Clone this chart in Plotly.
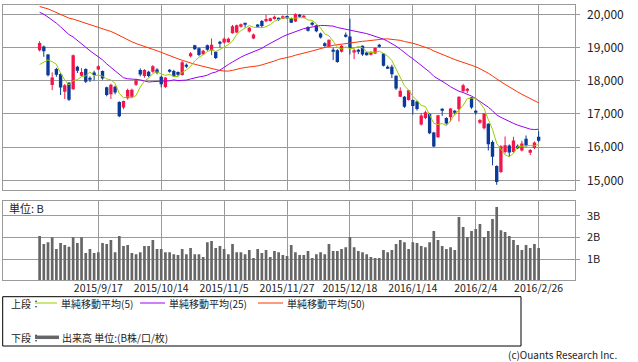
import plotly.graph_objects as go

# ---------------- data ----------------
dates = [
    "2015/8/28", "2015/8/31", "2015/9/1", "2015/9/2", "2015/9/3", "2015/9/4", "2015/9/7", "2015/9/8",
    "2015/9/9", "2015/9/10", "2015/9/11", "2015/9/14", "2015/9/15", "2015/9/16", "2015/9/17", "2015/9/18",
    "2015/9/24", "2015/9/25", "2015/9/28", "2015/9/29", "2015/9/30",
    "2015/10/1", "2015/10/2", "2015/10/5", "2015/10/6", "2015/10/7", "2015/10/8", "2015/10/9", "2015/10/13",
    "2015/10/14", "2015/10/15", "2015/10/16", "2015/10/19", "2015/10/20", "2015/10/21", "2015/10/22",
    "2015/10/23", "2015/10/26", "2015/10/27", "2015/10/28", "2015/10/29", "2015/10/30",
    "2015/11/2", "2015/11/4", "2015/11/5", "2015/11/6", "2015/11/9", "2015/11/10", "2015/11/11", "2015/11/12",
    "2015/11/13", "2015/11/16", "2015/11/17", "2015/11/18", "2015/11/19", "2015/11/20", "2015/11/24",
    "2015/11/25", "2015/11/26", "2015/11/27", "2015/11/30",
    "2015/12/1", "2015/12/2", "2015/12/3", "2015/12/4", "2015/12/7", "2015/12/8", "2015/12/9", "2015/12/10",
    "2015/12/11", "2015/12/14", "2015/12/15", "2015/12/16", "2015/12/17", "2015/12/18", "2015/12/21",
    "2015/12/22", "2015/12/24", "2015/12/25", "2015/12/28", "2015/12/29", "2015/12/30",
    "2016/1/4", "2016/1/5", "2016/1/6", "2016/1/7", "2016/1/8", "2016/1/12", "2016/1/13", "2016/1/14",
    "2016/1/15", "2016/1/18", "2016/1/19", "2016/1/20", "2016/1/21", "2016/1/22", "2016/1/25", "2016/1/26",
    "2016/1/27", "2016/1/28", "2016/1/29",
    "2016/2/1", "2016/2/2", "2016/2/3", "2016/2/4", "2016/2/5", "2016/2/8", "2016/2/9", "2016/2/10",
    "2016/2/12", "2016/2/15", "2016/2/16", "2016/2/17", "2016/2/18", "2016/2/19", "2016/2/22", "2016/2/23",
    "2016/2/24", "2016/2/25", "2016/2/26",
]

opens = [
    18920, 19030, 18790, 17870, 18350, 18200, 17670, 17940, 17740, 18420,
    18150, 18350, 18090, 18250, 18340, 18290, 17800, 17590, 17820, 17360,
    17190, 17470, 17520, 17880, 18320, 18140, 18270, 18270, 18340, 18120,
    17810, 18320, 18290, 18260, 18170, 18470, 18740, 19070, 18980, 18800,
    19070, 18920, 18870, 19140, 19150, 19160, 19430, 19450, 19640, 19710,
    19480, 19270, 19690, 19800, 19790, 19800, 19860, 19880, 19890, 19950,
    19880, 19780, 19990, 19900, 19620, 19720, 19670, 19420, 19130, 19030,
    18900, 18920, 18870, 19370, 19330, 18850, 18930, 19050, 18850, 18780,
    18820, 19060, 18820, 18420, 18420, 18150, 17520, 17520, 17420, 17420,
    17370, 16680, 16880, 17000, 16440, 16300, 17140, 16880, 16900, 17080,
    17140, 17680, 17720, 17500, 17080, 16760, 16570, 16700, 16150, 15430,
    15250, 15850, 16050, 15850, 16040, 15900, 16250, 15860, 15970, 16310,
]
highs = [
    19192, 19060, 18800, 18250, 18390, 18230, 17900, 17960, 18790, 18450,
    18380, 18370, 18130, 18300, 18470, 18310, 17820, 17910, 17850, 17380,
    17400, 17760, 17760, 18060, 18370, 18350, 18300, 18470, 18380, 18150,
    18110, 18350, 18330, 18280, 18600, 18520, 18860, 19080, 19000, 18930,
    19090, 19270, 18880, 19200, 19300, 19300, 19680, 19690, 19720, 19730,
    19620, 19420, 19700, 19830, 19980, 19900, 19960, 19900, 19970, 19960,
    19900, 20030, 20010, 19980, 19640, 19780, 19690, 19450, 19160, 19240,
    18990, 18950, 19070, 19450, 19870, 18960, 18960, 19060, 18870, 18880,
    19000, 19110, 18830, 18460, 18480, 18160, 17800, 17540, 17720, 17440,
    17400, 17030, 17100, 17030, 16460, 16970, 17170, 16900, 17170, 17120,
    17530, 17905, 17780, 17510, 17120, 16850, 17030, 16720, 16200, 15450,
    16060, 16320, 16080, 16310, 16080, 16190, 16350, 15940, 16170, 16480,
]
lows = [
    18880, 18720, 18130, 17714, 18120, 17570, 17450, 17390, 17720, 18230,
    18120, 17930, 17960, 18010, 18320, 18030, 17530, 17450, 17590, 16901,
    17140, 17430, 17490, 17840, 18130, 18090, 18100, 18240, 18190, 17800,
    17780, 18240, 18110, 18130, 18150, 18380, 18700, 18930, 18740, 18780,
    18900, 18770, 18650, 19000, 19120, 19140, 19420, 19430, 19600, 19600,
    19450, 19250, 19590, 19590, 19760, 19780, 19840, 19800, 19870, 19860,
    19740, 19770, 19900, 19880, 19480, 19650, 19460, 19270, 19020, 19000,
    18620, 18540, 18850, 19300, 18790, 18650, 18800, 18750, 18760, 18760,
    18800, 19000, 18430, 18360, 18080, 17720, 17510, 17180, 17400, 16980,
    17100, 16650, 16840, 16390, 16000, 16280, 16940, 16680, 16770, 16960,
    16770, 17660, 17630, 17150, 16980, 16700, 16530, 15900, 15450, 14865,
    15220, 15800, 15700, 15830, 15940, 15870, 16010, 15760, 15940, 16150,
]
closes = [
    19136, 18890, 18165, 18095, 18182, 17792, 17860, 17427, 18770, 18299,
    18264, 17965, 18026, 18171, 18432, 18070, 17571, 17880, 17645, 16930,
    17388, 17722, 17725, 18005, 18186, 18322, 18141, 18438, 18234, 17891,
    18097, 18291, 18131, 18207, 18554, 18435, 18825, 18947, 18777, 18903,
    18935, 19083, 18684, 19116, 19265, 19265, 19642, 19671, 19697, 19697,
    19596, 19394, 19649, 19649, 19859, 19879, 19924, 19847, 19944, 19883,
    19747, 20012, 19938, 19939, 19504, 19698, 19492, 19301, 19047, 19230,
    18883, 18565, 19049, 19353, 18986, 18916, 18886, 18789, 18769, 18873,
    18982, 19033, 18450, 18374, 18191, 17767, 17697, 17218, 17715, 17240,
    17147, 16955, 17048, 16416, 16017, 16958, 17110, 16708, 17163, 17041,
    17518, 17865, 17750, 17191, 17044, 16819, 17004, 16085, 15713, 14952,
    16022, 16054, 15836, 16196, 15967, 16111, 16052, 15915, 16140, 16188,
]
ma5 = [
    18486, 18556, 18628, 18572, 18494, 18225, 18019, 17871, 18006, 18030,
    18124, 18145, 18265, 18145, 18172, 18133, 18054, 18025, 17920, 17619,
    17483, 17513, 17482, 17554, 17805, 17992, 18076, 18218, 18264, 18205,
    18160, 18190, 18129, 18123, 18256, 18324, 18430, 18594, 18708, 18777,
    18877, 18929, 18876, 18944, 19017, 19083, 19194, 19392, 19508, 19594,
    19661, 19611, 19607, 19597, 19629, 19686, 19792, 19832, 19891, 19895,
    19869, 19887, 19905, 19904, 19828, 19818, 19714, 19587, 19408, 19354,
    19191, 19005, 18955, 19016, 18967, 18974, 19038, 18986, 18869, 18847,
    18860, 18889, 18821, 18742, 18606, 18363, 18096, 17849, 17718, 17527,
    17403, 17255, 17221, 16961, 16717, 16679, 16710, 16642, 16791, 16996,
    17108, 17259, 17467, 17473, 17474, 17334, 17162, 16829, 16533, 16115,
    15955, 15765, 15715, 15812, 16015, 16033, 16032, 16048, 16037, 16081,
]
ma25 = [
    20059, 20001, 19915, 19826, 19733, 19621, 19513, 19390, 19316, 19221,
    19123, 19009, 18901, 18813, 18726, 18628, 18506, 18399, 18296, 18172,
    18090, 18057, 18054, 18039, 18024, 17991, 17961, 17972, 17978, 17966,
    17978, 17996, 18024, 18001, 18011, 18018, 18053, 18090, 18114, 18133,
    18167, 18228, 18260, 18319, 18412, 18487, 18564, 18642, 18709, 18770,
    18821, 18871, 18919, 18976, 19055, 19126, 19191, 19260, 19329, 19383,
    19435, 19483, 19522, 19569, 19593, 19623, 19640, 19664, 19662, 19660,
    19645, 19602, 19577, 19563, 19535, 19508, 19487, 19453, 19418, 19378,
    19342, 19307, 19251, 19188, 19120, 19041, 18948, 18840, 18751, 18660,
    18558, 18457, 18367, 18261, 18133, 18056, 17998, 17904, 17816, 17739,
    17683, 17642, 17600, 17537, 17464, 17377, 17296, 17202, 17095, 16966,
    16896, 16830, 16775, 16714, 16663, 16622, 16586, 16540, 16529, 16536,
]
ma50 = [
    20234, 20208, 20163, 20109, 20055, 19995, 19938, 19885, 19855, 19815,
    19770, 19718, 19677, 19632, 19606, 19571, 19526, 19482, 19427, 19357,
    19293, 19234, 19172, 19120, 19070, 19025, 18981, 18943, 18902, 18849,
    18800, 18755, 18707, 18659, 18616, 18571, 18531, 18496, 18463, 18429,
    18398, 18367, 18330, 18307, 18292, 18289, 18311, 18348, 18374, 18397,
    18406, 18416, 18446, 18477, 18510, 18552, 18593, 18642, 18665, 18697,
    18727, 18768, 18806, 18841, 18863, 18895, 18934, 18962, 18990, 19036,
    19066, 19083, 19109, 19136, 19152, 19164, 19179, 19186, 19197, 19216,
    19234, 19249, 19255, 19259, 19251, 19238, 19216, 19181, 19160, 19126,
    19091, 19048, 19015, 18961, 18896, 18850, 18800, 18740, 18690, 18637,
    18595, 18564, 18527, 18477, 18421, 18360, 18301, 18226, 18142, 18043,
    17968, 17889, 17807, 17732, 17662, 17590, 17521, 17453, 17395, 17334,
]
volume_b = [
    2.07, 1.70, 1.79, 2.01, 1.47, 1.75, 1.66, 1.58, 2.01, 1.75,
    2.01, 1.29, 1.47, 1.29, 1.33, 1.75, 1.70, 1.89, 1.33, 2.07,
    1.61, 1.66, 1.29, 1.24, 1.33, 1.61, 1.61, 1.89, 1.47, 1.47,
    1.33, 1.33, 1.24, 1.20, 1.47, 1.24, 1.52, 1.24, 1.24, 1.11,
    1.79, 1.84, 1.52, 1.61, 1.47, 1.24, 1.70, 1.33, 1.33, 1.24,
    1.43, 1.06, 1.47, 1.29, 1.43, 1.11, 1.38, 1.33, 1.20, 1.15,
    1.66, 1.33, 1.20, 1.20, 1.38, 1.06, 1.24, 1.33, 1.24, 1.70,
    1.38, 1.38, 1.47, 1.56, 2.02, 1.56, 1.38, 1.33, 1.24, 1.11,
    1.06, 1.06, 1.43, 1.33, 1.43, 1.70, 1.89, 1.79, 1.47, 1.79,
    1.75, 1.61, 1.56, 1.79, 2.30, 1.89, 1.61, 1.47, 1.56, 1.43,
    2.94, 2.48, 2.02, 2.30, 2.39, 2.62, 2.02, 2.30, 2.85, 3.40,
    2.34, 2.25, 2.07, 1.89, 1.66, 1.43, 1.66, 1.52, 1.70, 1.52,
]
tick_labels = ["2015/9/17", "2015/10/14", "2015/11/5", "2015/11/27",
               "2015/12/18", "2016/1/14", "2016/2/4", "2016/2/26"]
price_ticks = [15000, 16000, 17000, 18000, 19000, 20000]
volume_ticks = [1, 2, 3]
volume_tick_text = ["1B", "2B", "3B"]

# ---------------- styling ----------------
W, H = 638, 362
RED = "#f2164b"
BLUE = "#0b3a98"
GRID = "#9a9a9a"
FONT = "Noto Sans CJK JP"


def px(xp):
    return xp / W


def py(yp):
    return 1 - yp / H


idx = list(range(len(dates)))
tick_idx = [dates.index(t) for t in tick_labels]
up = [i for i in idx if closes[i] >= opens[i]]
dn = [i for i in idx if closes[i] < opens[i]]

fig = go.Figure()


def add_candles(sel, color):
    xs, ys = [], []
    for i in sel:
        xs += [i, i, None]
        ys += [lows[i], highs[i], None]
    fig.add_trace(go.Scatter(x=xs, y=ys, mode="lines", line=dict(color=color, width=1),
                             hoverinfo="skip", xaxis="x", yaxis="y"))
    fig.add_trace(go.Bar(
        x=sel,
        y=[max(abs(closes[i] - opens[i]), 30) for i in sel],
        base=[min(opens[i], closes[i]) for i in sel],
        width=0.8, marker=dict(color=color, line=dict(width=0)),
        xaxis="x", yaxis="y"))


add_candles(up, RED)
add_candles(dn, BLUE)

for series, color in ((ma50, "#ff3300"), (ma25, "#9a00f2"), (ma5, "#99cc00")):
    fig.add_trace(go.Scatter(x=idx, y=series, mode="lines", line=dict(color=color, width=1),
                             xaxis="x", yaxis="y"))

fig.add_trace(go.Bar(x=idx, y=volume_b, width=0.64, marker=dict(color="#666666", line=dict(width=0)),
                     xaxis="x2", yaxis="y2"))

x_dom = [px(3.3), px(574.7)]
x_rng = [-8.66, 127.6]
common_x = dict(domain=x_dom, range=x_rng, tickvals=tick_idx, showgrid=True, gridcolor=GRID,
                gridwidth=1, showline=True, mirror=True, linecolor=GRID, linewidth=1,
                zeroline=False, ticks="")

fig.update_layout(
    width=W, height=H,
    margin=dict(l=0, r=0, t=0, b=0),
    paper_bgcolor="white", plot_bgcolor="white",
    showlegend=False, barmode="overlay",
    font=dict(family=FONT, color="#222222"),
    xaxis=dict(**common_x, anchor="y", showticklabels=False),
    xaxis2=dict(**common_x, anchor="y2", matches="x", ticktext=tick_labels,
                showticklabels=True, tickfont=dict(size=10.5, color="#222222"), ticklabelstandoff=-2),
    yaxis=dict(domain=[py(190.3), py(4.7)], range=[14699, 20289], side="right",
               tickvals=price_ticks, tickformat=",d", showgrid=True, gridcolor=GRID,
               showline=True, mirror=True, linecolor=GRID, zeroline=False,
               ticks="outside", ticklen=4, tickcolor=GRID, ticklabelstandoff=5,
               tickfont=dict(size=12, color="#222222"), anchor="x"),
    yaxis2=dict(domain=[py(280.3), py(200.7)], range=[0.04, 3.69], side="right",
                tickvals=volume_ticks, ticktext=volume_tick_text, showgrid=True, gridcolor=GRID,
                showline=True, mirror=True, linecolor=GRID, zeroline=False,
                ticks="outside", ticklen=4, tickcolor=GRID, ticklabelstandoff=5,
                tickfont=dict(size=11, color="#222222"), anchor="x2"),
)

shapes = [
    dict(type="rect", xref="paper", yref="paper", x0=px(2.7), x1=px(521), y0=py(346), y1=py(296.7),
         line=dict(color="black", width=1)),
    dict(type="line", xref="paper", yref="paper", x0=px(35), x1=px(57), y0=py(303), y1=py(303),
         line=dict(color="#99cc00", width=1)),
    dict(type="line", xref="paper", yref="paper", x0=px(140), x1=px(165), y0=py(303), y1=py(303),
         line=dict(color="#9a00f2", width=1)),
    dict(type="line", xref="paper", yref="paper", x0=px(258), x1=px(283), y0=py(303), y1=py(303),
         line=dict(color="#ff3300", width=1)),
    dict(type="line", xref="paper", yref="paper", x0=px(35), x1=px(59), y0=py(337.3), y1=py(337.3),
         line=dict(color="#666666", width=3.5)),
]
fig.update_layout(shapes=shapes)


def note(x, y, text, size=10, anchor="left"):
    fig.add_annotation(x=px(x), y=py(y), xref="paper", yref="paper", text=text, showarrow=False,
                       xanchor=anchor, yanchor="middle", borderpad=0,
                       font=dict(family=FONT, size=size, color="#222222"))


note(8, 208.5, "単位: B", 11)
note(10, 303, "上段：")
note(60, 303, "単純移動平均(5)")
note(168, 303, "単純移動平均(25)")
note(286, 303, "単純移動平均(50)")
note(10, 337.3, "下段：")
note(61, 337.3, "出来高 単位:(B株/口/枚)")
note(618, 354.5, "(c)Ouants Research Inc.", 10, "right")

fig.write_html("out.html", config={"displayModeBar": False},
               post_script="document.body.style.margin='0px';document.body.style.padding='0px';")
